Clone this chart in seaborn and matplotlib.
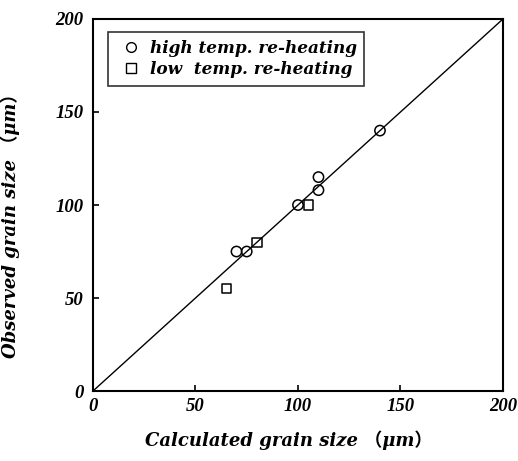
import matplotlib
matplotlib.use("Agg")
import matplotlib.pyplot as plt
import seaborn as sns
import pandas as pd
from matplotlib.lines import Line2D

# Grain size data (µm): calculated vs. observed
high_calc = [140, 110, 110, 100, 70, 75]
high_obs = [140, 115, 108, 100, 75, 75]
low_calc = [105, 80, 65]
low_obs = [100, 80, 55]
ref_line = [0, 200]
ticks = [0, 50, 100, 150, 200]
labels = ["high temp. re-heating", "low  temp. re-heating"]

sns.set_theme(style="white")
plt.rcParams["font.family"] = ["DejaVu Serif", "Noto Sans CJK JP"]
for key in ("text.color", "axes.labelcolor", "xtick.color", "ytick.color"):
    plt.rcParams[key] = "black"

fig = plt.figure(figsize=(5.18, 4.61), dpi=100)
ax = fig.add_axes([0.1795, 0.1518, 0.7915, 0.807])

sns.lineplot(x=ref_line, y=ref_line, ax=ax, color="black", linewidth=1.0)

high = pd.DataFrame({"calc": high_calc, "obs": high_obs})
low = pd.DataFrame({"calc": low_calc, "obs": low_obs})
sns.scatterplot(data=high, x="calc", y="obs", ax=ax, marker="o", s=55,
                facecolor="none", edgecolor="black", linewidth=1.1, zorder=3)
sns.scatterplot(data=low, x="calc", y="obs", ax=ax, marker="s", s=45,
                facecolor="none", edgecolor="black", linewidth=1.1, zorder=3)

ax.set_xlim(0, 200)
ax.set_ylim(0, 200)
ax.set_xticks(ticks)
ax.set_yticks(ticks)
tick_font = dict(family=["Liberation Serif"], weight="bold", style="italic", size=13.5)
ax.set_xticklabels([str(t) for t in ticks], fontdict=tick_font)
ax.set_yticklabels([str(t) for t in ticks], fontdict=tick_font)
ax.tick_params(axis="x", direction="in", length=4, width=1.2, pad=5, bottom=True)
ax.tick_params(axis="y", direction="in", length=4, width=1.2, pad=7, left=True)

for sp in ax.spines.values():
    sp.set_color("black")
    sp.set_linewidth(1.5)

lab_font = dict(family=["DejaVu Serif", "Noto Sans CJK JP"], weight="bold",
                style="italic", size=13)
ax.set_xlabel("Calculated grain size （μm）", fontdict=lab_font)
ax.set_ylabel("Observed grain size （μm）", fontdict=lab_font)
ax.xaxis.set_label_coords(0.478, -0.105)
ax.yaxis.set_label_coords(-0.178, 0.455)

handles = [
    Line2D([], [], marker="o", linestyle="none", markerfacecolor="none",
           markeredgecolor="black", markersize=7, markeredgewidth=1.0),
    Line2D([], [], marker="s", linestyle="none", markerfacecolor="none",
           markeredgecolor="black", markersize=6.5, markeredgewidth=1.0),
]
leg = ax.legend(handles, labels, loc="upper left", bbox_to_anchor=(0.037, 0.965),
                borderaxespad=0, frameon=True, fancybox=False, handletextpad=0.2,
                handlelength=1.8, labelspacing=0.25, borderpad=0.45,
                prop=dict(family="DejaVu Serif", weight="bold", style="italic", size=12.2))
leg.get_frame().set_edgecolor("black")
leg.get_frame().set_linewidth(1.2)

fig.savefig("out.png", dpi=100)
